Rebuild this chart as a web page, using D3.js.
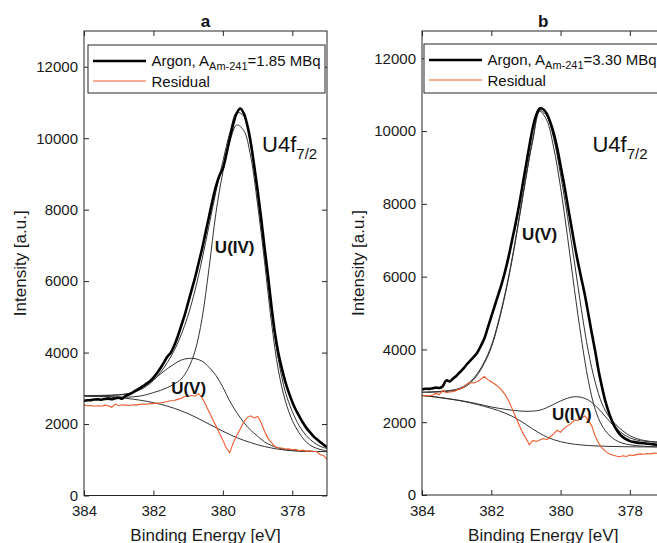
<!DOCTYPE html>
<html><head><meta charset="utf-8">
<script src="https://cdn.jsdelivr.net/npm/d3@7"></script>
<style>body{margin:0;background:#fff} svg{display:block} text{font-family:"Liberation Sans",Arial,Helvetica,sans-serif}</style>
</head><body><svg id="c" width="657" height="543"></svg>
<script>
// Binding energy grids [eV]
const E02 = [384.0,383.8,383.6,383.4,383.2,383.0,382.8,382.6,382.4,382.2,382.0,381.8,381.6,381.4,381.2,381.0,380.8,380.6,380.4,380.2,380.0,379.8,379.6,379.4,379.2,379.0,378.8,378.6,378.4,378.2,378.0,377.8,377.6,377.4,377.2,377.0];
const E01 = [384.0,383.9,383.8,383.7,383.6,383.5,383.4,383.3,383.2,383.1,383.0,382.9,382.8,382.7,382.6,382.5,382.4,382.3,382.2,382.1,382.0,381.9,381.8,381.7,381.6,381.5,381.4,381.3,381.2,381.1,381.0,380.9,380.8,380.7,380.6,380.5,380.4,380.3,380.2,380.1,380.0,379.9,379.8,379.7,379.6,379.5,379.4,379.3,379.2,379.1,379.0,378.9,378.8,378.7,378.6,378.5,378.4,378.3,378.2,378.1,378.0,377.9,377.8,377.7,377.6,377.5,377.4,377.3,377.2,377.1,377.0];

const xTicks = [384,382,380,378];
const yTicks = [0,2000,4000,6000,8000,10000,12000];

// Panel a
const aArgon = [2650,2665,2670,2685,2690,2680,2700,2710,2695,2720,2735,
 2710,2790,2830,2880,2940,3000,3060,3130,3200,3300,
 3420,3560,3720,3880,4000,4200,4450,4750,5050,5400,
 5750,6100,6500,6900,7350,7800,8250,8650,8950,9150,
 9550,10000,10400,10700,10830,10700,10380,9900,9250,8550,
 7780,6950,6150,5300,4550,3980,3550,3180,2880,2620,
 2400,2220,2050,1900,1780,1670,1580,1500,1420,1350];
const aResidual = [2530,2510,2520,2500,2510,2500,2530,2510,2470,2560,2520,
 2540,2530,2520,2540,2530,2550,2560,2555,2570,2570,
 2590,2590,2610,2630,2650,2660,2690,2720,2770,2780,
 2800,2780,2850,2740,2550,2350,2150,1950,1750,1550,
 1330,1200,1480,1680,1860,2050,2180,2230,2170,2210,
 2050,1800,1600,1480,1370,1330,1330,1300,1310,1280,
 1290,1250,1270,1240,1250,1230,1230,1150,1120,1010];
const aBackground = [2780,2776,2770,2762,2750,2737,2720,2698,2670,2638,2600,2553,2500,2440,2370,2290,2200,2100,2000,1900,1800,1705,1620,1545,1480,1420,1370,1330,1295,1270,1252,1242,1236,1232,1230,1228];
const aUIV = [2790,2785,2780,2772,2765,2758,2752,2760,2780,2820,2880,2940,3020,3120,3260,3550,4050,4950,6350,7900,9050,9900,10370,10220,9500,8150,6550,4850,3500,2650,2100,1750,1500,1360,1290,1250];
const aUV = [2785,2787,2790,2795,2802,2812,2835,2890,2980,3100,3240,3400,3550,3680,3790,3835,3830,3760,3590,3360,3030,2640,2320,2050,1830,1660,1500,1400,1330,1290,1262,1248,1240,1234,1231,1229];
const aEnvelope = [2800,2800,2800,2805,2810,2820,2840,2880,2950,3060,3220,3440,3720,4060,4500,5050,5750,6600,7550,8500,9350,10150,10720,10620,9800,8450,6850,5150,3800,2900,2350,1950,1680,1500,1380,1310];
const aLabelText = ["U(IV)","U(V)"];
const aLabelE = [380.23, 381.49];
const aLabelI = [6790, 2840];
const aPeakLabelE = 378.87, aPeakLabelI = 9610;

// Panel b
const bArgon = [2900,2920,2915,2930,2950,2940,2990,3150,3120,3200,3280,
 3380,3480,3600,3700,3800,3920,4100,4300,4600,4900,
 5200,5500,5800,6150,6550,7000,7450,7950,8500,9050,
 9600,10100,10450,10620,10600,10480,10250,9950,9550,9050,
 8550,8000,7450,6900,6400,5950,5500,4980,4450,3950,
 3400,2950,2550,2250,2000,1820,1680,1590,1530,1480,
 1460,1440,1430,1420,1410,1400,1390,1380,1370,1360];
const bResidual = [2740,2730,2720,2740,2790,2760,2880,2810,2830,2840,2880,
 2920,2960,3050,3090,3080,3120,3180,3260,3170,3110,
 3050,2980,2880,2760,2590,2380,2150,1930,1720,1560,
 1380,1500,1470,1510,1550,1520,1600,1680,1780,1720,
 1830,1900,1960,2060,2050,2120,2170,2050,1900,1620,
 1420,1290,1200,1130,1100,1070,1050,1080,1060,1100,
 1090,1110,1130,1120,1140,1130,1150,1145,1150,1160];
const bBackground = [2730,2712,2692,2664,2636,2606,2572,2530,2485,2435,2380,2320,2250,2165,2060,1940,1810,1695,1595,1520,1465,1425,1395,1375,1360,1350,1342,1336,1332,1328,1325,1323,1322,1321,1320,1320];
const bUIV = [2732,2714,2695,2668,2641,2613,2582,2545,2505,2462,2420,2385,2355,2330,2310,2300,2305,2330,2400,2490,2585,2660,2700,2685,2610,2460,2260,2040,1840,1680,1570,1510,1480,1460,1450,1445];
const bUV = [2820,2822,2828,2838,2855,2885,2950,3080,3300,3620,4050,4700,5500,6450,7550,8700,9750,10540,10300,9550,8450,7100,5650,4300,3150,2350,1900,1650,1500,1420,1380,1355,1340,1330,1325,1320];
const bEnvelope = [2830,2833,2840,2852,2872,2905,2985,3120,3340,3660,4100,4750,5550,6500,7600,8750,9800,10560,10420,9800,8800,7650,6400,5100,3950,3100,2500,2150,1930,1760,1630,1550,1500,1470,1455,1448];
const bLabelText = ["U(V)","U(IV)"];
const bLabelE = [381.11, 380.25];
const bLabelI = [7010, 2060];
const bPeakLabelE = 379.08, bPeakLabelI = 9425;

const panels = [
  {key:"a", x0:84, x1:327, y0:495.5, y1:31, ymax:13000, thick:aArgon, resid:aResidual, bg:aBackground, uv:aUV, uiv:aUIV, env:aEnvelope,
   act:"=1.85 MBq", legX:88, legY:45, legW:237, legH:48, ylabX:25.5,
   labT:aLabelText, labE:aLabelE, labI:aLabelI, pkE:aPeakLabelE, pkI:aPeakLabelI},
  {key:"b", x0:422, x1:664.5, y0:495, y1:31, ymax:12750, thick:bArgon, resid:bResidual, bg:bBackground, uv:bUV, uiv:bUIV, env:bEnvelope,
   act:"=3.30 MBq", legX:424, legY:44, legW:240, legH:49, ylabX:364,
   labT:bLabelText, labE:bLabelE, labI:bLabelI, pkE:bPeakLabelE, pkI:bPeakLabelI}
];

const svg = d3.select("#c");
const AX = "#262626";
const zip = (xs, ys) => xs.map((v, i) => [v, ys[i]]);

panels.forEach(p => {
  const x = d3.scaleLinear().domain([384, 377]).range([p.x0, p.x1]);
  const y = d3.scaleLinear().domain([0, p.ymax]).range([p.y0, p.y1]);
  const g = svg.append("g");
  const clipId = "clip-" + p.key;
  svg.append("clipPath").attr("id", clipId).append("rect")
    .attr("x", p.x0).attr("y", p.y1).attr("width", p.x1 - p.x0).attr("height", p.y0 - p.y1);
  const plot = g.append("g").attr("clip-path", `url(#${clipId})`);
  const smooth = d3.line().x(d => x(d[0])).y(d => y(d[1])).curve(d3.curveCatmullRom.alpha(0.5));
  const lin = d3.line().x(d => x(d[0])).y(d => y(d[1]));

  [p.bg, p.uv, p.uiv, p.env].forEach(s => {
    plot.append("path").attr("d", smooth(zip(E02, s)))
      .attr("fill", "none").attr("stroke", "#333").attr("stroke-width", 1);
  });
  plot.append("path").attr("d", lin(zip(E01, p.resid)))
    .attr("fill", "none").attr("stroke", "#ee5a2c").attr("stroke-width", 1.1);
  plot.append("path").attr("d", smooth(zip(E01, p.thick)))
    .attr("fill", "none").attr("stroke", "#000").attr("stroke-width", 2.6).attr("stroke-linejoin", "round");

  // axes
  const styleAxis = sel => {
    sel.select(".domain").remove();
    sel.selectAll(".tick line").attr("stroke", AX);
    sel.selectAll(".tick text").attr("fill", "#1a1a1a").style("font-size", "15px")
      .style("font-family", '"Liberation Sans",Arial,sans-serif');
  };
  g.append("g").attr("transform", `translate(${p.x0},0)`)
    .call(d3.axisLeft(y).tickValues(yTicks).tickSize(-5).tickPadding(6).tickFormat(d3.format("d"))).call(styleAxis);
  g.append("g").attr("transform", `translate(0,${p.y0})`)
    .call(d3.axisBottom(x).tickValues(xTicks).tickSize(-5).tickPadding(10).tickFormat(d3.format("d"))).call(styleAxis);
  g.append("g").attr("transform", `translate(0,${p.y1})`)
    .call(d3.axisTop(x).tickValues(xTicks).tickSize(-5).tickFormat("")).call(styleAxis);
  g.append("g").attr("transform", `translate(${p.x1},0)`)
    .call(d3.axisRight(y).tickValues(yTicks).tickSize(-5).tickFormat("")).call(styleAxis);
  g.append("rect").attr("x", p.x0).attr("y", p.y1).attr("width", p.x1 - p.x0).attr("height", p.y0 - p.y1)
    .attr("fill", "none").attr("stroke", AX).attr("stroke-width", 1);

  // annotations
  p.labT.forEach((t, i) => {
    g.append("text").attr("x", x(p.labE[i])).attr("y", y(p.labI[i]))
      .style("font-size", "17px").style("font-weight", "bold").attr("fill", "#111").text(t);
  });
  const pk = g.append("text").attr("x", x(p.pkE)).attr("y", y(p.pkI)).style("font-size", "22px").attr("fill", "#111");
  pk.append("tspan").text("U4f");
  pk.append("tspan").attr("dy", 7).style("font-size", "15px").text("7/2");

  // legend
  const lg = g.append("g");
  lg.append("rect").attr("x", p.legX).attr("y", p.legY).attr("width", p.legW).attr("height", p.legH)
    .attr("fill", "#fff").attr("stroke", AX).attr("stroke-width", 1);
  lg.append("line").attr("x1", p.legX + 5).attr("x2", p.legX + 58).attr("y1", p.legY + 16).attr("y2", p.legY + 16)
    .attr("stroke", "#000").attr("stroke-width", 2.6);
  lg.append("line").attr("x1", p.legX + 5).attr("x2", p.legX + 58).attr("y1", p.legY + 36).attr("y2", p.legY + 36)
    .attr("stroke", "#ee5a2c").attr("stroke-width", 1.1);
  const lt = lg.append("text").attr("x", p.legX + 63.5).attr("y", p.legY + 20.5).style("font-size", "15px").attr("fill", "#111");
  lt.append("tspan").text("Argon, A");
  lt.append("tspan").attr("dy", 4.5).style("font-size", "11px").text("Am-241");
  lt.append("tspan").attr("dy", -4.5).text(p.act);
  lg.append("text").attr("x", p.legX + 63.5).attr("y", p.legY + 42).style("font-size", "15px").attr("fill", "#111").text("Residual");

  // titles and axis labels
  g.append("text").attr("x", (p.x0 + p.x1) / 2).attr("y", 27).attr("text-anchor", "middle")
    .style("font-size", "17px").style("font-weight", "bold").attr("fill", "#111").text(p.key);
  g.append("text").attr("x", (p.x0 + p.x1) / 2).attr("y", 540.5).attr("text-anchor", "middle")
    .style("font-size", "17px").attr("fill", "#1a1a1a").text("Binding Energy [eV]");
  g.append("text").attr("transform", `translate(${p.ylabX},${(p.y0 + p.y1) / 2}) rotate(-90)`).attr("text-anchor", "middle")
    .style("font-size", "17px").attr("fill", "#1a1a1a").text("Intensity [a.u.]");
});
</script>
</body></html>
